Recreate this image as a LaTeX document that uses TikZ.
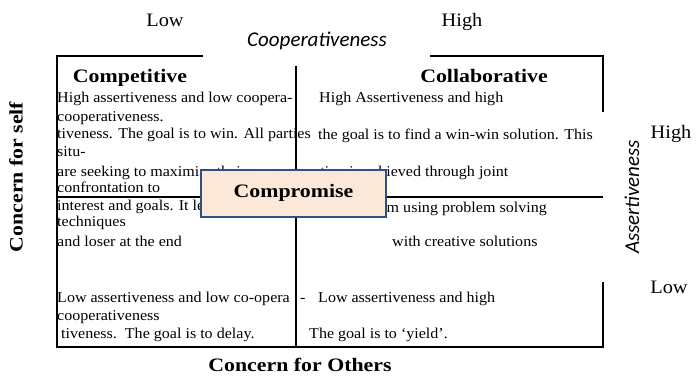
\documentclass[tikz,border=0pt]{standalone}
\usepackage{fontspec}
\setmainfont[FakeStretch=1.07]{Liberation Serif}
\newfontfamily\hdfont[FakeStretch=1.15]{Liberation Serif}
\newfontfamily\lblfont{Carlito}
\definecolor{boxfill}{RGB}{252,232,216}
\definecolor{boxline}{RGB}{47,80,130}
\begin{document}
\begin{tikzpicture}[x=1pt,y=-1pt,
  frame/.style={line width=1.2pt, black},
  body/.style={anchor=base west, inner sep=0pt, font=\fontsize{15}{17}\selectfont},
  head/.style={anchor=base, inner sep=0pt, font=\hdfont\bfseries\fontsize{19}{21}\selectfont},
  axis/.style={inner sep=0pt, font=\lblfont\itshape\fontsize{21}{23}\selectfont},
  level/.style={anchor=base, inner sep=0pt, font=\fontsize{19}{21}\selectfont},
  compbox/.style={draw=boxline, fill=boxfill, line width=1.1pt, minimum width=185pt, minimum height=47pt, inner sep=0pt}
]
\useasboundingbox (0,0) rectangle (696,377);

% frame
\draw[frame] (203,56) -- (57,56) -- (57,347) -- (604,347);
\draw[frame] (430,56) -- (603,56) -- (603,112);
\draw[frame] (603,282) -- (603,347);
\draw[frame] (296,66) -- (296,347);
\draw[frame] (57,197) -- (603,197);

% axis labels
\node[level] (lowtop) at (165,27) {Low};
\node[level] (hightop) at (462,27) {High};
\node[axis, anchor=base] (coop) at (317,47) {Cooperativeness};
\node[axis, rotate=90] (assert) at (632,197) {Assertiveness};
\node[level] (highr) at (671,139) {High};
\node[level] (lowr) at (669,293) {Low};
\node[head, rotate=90, anchor=center] (cself) at (16,177) {Concern for self};
\node[head] (cothers) at (300,371.5) {Concern for Others};

% quadrant headings
\node[head] (competitive) at (130,83) {Competitive};
\node[head] (collab) at (484,83) {Collaborative};

% left upper text
\node[body] (l1) at (57,103) {High assertiveness and low coopera-};
\node[body] (l2) at (57,121.7) {cooperativeness.};
\node[body] (l3) at (57,139) {tiveness. The goal is to win. All parties};
\node[body] (l4) at (57,156.7) {situ-};
\node[body] (l5) at (57,176) {are seeking to maximise their own};
\node[body] (l6) at (57,192.7) {confrontation to};
\node[body] (l7) at (57,210) {interest and goals. It leads to a winner};
\node[body] (l8) at (57,226.7) {techniques};
\node[body] (l9) at (57,246.7) {and loser at the end};

% right upper text
\node[body] (r1) at (319,103) {High Assertiveness and high};
\node[body] (r2) at (318,139.5) {the goal is to find a win-win solution. This};
\node[body] (r3) at (313,176) {ation is achieved through joint};
\node[body, anchor=base east] (r4) at (547,212) {the problem using problem solving};
\node[body] (r5) at (392,246.7) {with creative solutions};

% lower text
\node[body] (b1) at (57,302.7) {Low assertiveness and low co-opera};
\node[body] (b1d) at (300,302.7) {-};
\node[body] (b2) at (57,320) {cooperativeness};
\node[body] (b3) at (61,338) {tiveness.\ \ The goal is to delay.};
\node[body] (b4) at (318,302.7) {Low assertiveness and high};
\node[body] (b5) at (309,338) {The goal is to ‘yield’.};

% compromise box
\node[compbox] (compbox) at (293.5,193.5) {};
\node[head] (comp) at (293.5,197.3) {Compromise};
\end{tikzpicture}
\end{document}
